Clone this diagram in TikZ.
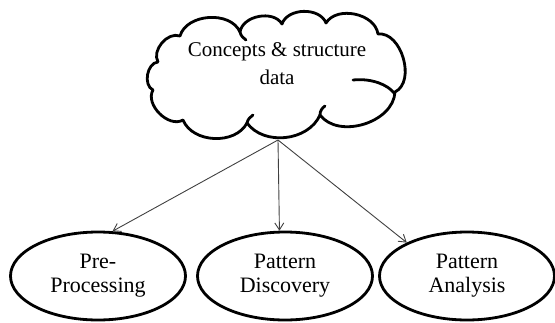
\documentclass[tikz,border=0pt]{standalone}
\usepackage{fontspec}
\setmainfont{Liberation Serif}
\usetikzlibrary{shapes.geometric,arrows.meta}
\tikzset{
  stage/.style={draw=black, line width=2.8pt, ellipse, minimum width=175pt, minimum height=88pt, inner sep=0pt, align=center, font=\fontsize{22}{24}\selectfont},
  cloudline/.style={draw=black, line width=2.8pt, line join=round, line cap=round},
  cloudtext/.style={align=center, font=\fontsize{21}{28}\selectfont},
  link/.style={draw=black!75, line width=0.9pt, -{Straight Barb[length=7pt,width=9pt]}}
}
\begin{document}
\begin{tikzpicture}[x=1pt,y=-1pt]
\useasboundingbox (0,0) rectangle (555,322);
\draw[cloudline] (153,90) to[bend left=75] (158,62) to[bend left=70] (180,36)
  to[bend left=70] (240,32) to[bend left=70] (282,24) to[bend left=70] (326,23)
  to[bend left=70] (378,34) to[bend left=80] (395,92) to[bend left=70] (320,115)
  to[bend left=60] (247,123) to[bend left=65] (183,120) to[bend left=75] (153,90) -- cycle;
\draw[cloudline] (353,80) .. controls (372,78) and (388,85) .. (394,93);
\draw[cloudline] (320,115) .. controls (320,111) and (322,108) .. (325,106);
\draw[cloudline] (247,123) .. controls (248,119) and (250,117) .. (253,115);
\draw[cloudline] (240,32) .. controls (241,36) and (243,38) .. (246,40);
\node[cloudtext] (ct) at (277,64) {Concepts \& structure\\data};
\coordinate (src) at (278,140);
\node[stage] (e1) at (98,276) {Pre-\\Processing};
\node[stage] (e2) at (285,276) {Pattern\\Discovery};
\node[stage] (e3) at (467,276) {Pattern\\Analysis};
\draw[link] (src) -- (e1.72);
\draw[link] (src) -- (e2.97);
\draw[link] (src) -- (e3.151);
\end{tikzpicture}
\end{document}
